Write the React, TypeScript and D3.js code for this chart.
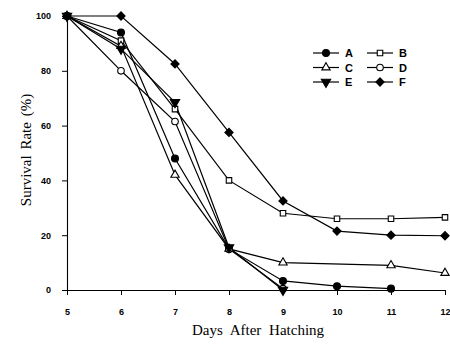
import React, { useEffect, useRef } from 'react';
import * as d3 from 'd3';

// days on the x axis
const days = [5, 6, 7, 8, 9, 10, 11, 12];
const yTicks = [0, 20, 40, 60, 80, 100];

// survival rate (%) per series
const seriesA = [[5, 100], [6, 94], [7, 48], [8, 15], [9, 3.3], [10, 1.4], [11, 0.5]];
const seriesB = [[5, 100], [6, 91], [7, 66], [8, 40], [9, 28], [10, 26], [11, 26], [12, 26.5]];
const seriesC = [[5, 100], [6, 89], [7, 42], [8, 15], [9, 10], [11, 9], [12, 6.2]];
const seriesD = [[5, 100], [6, 80], [7, 61.5], [8, 15], [9, 0.5]];
const seriesE = [[5, 100], [6, 88], [7, 68.5], [8, 15.5], [9, 0]];
const seriesF = [[5, 100], [6, 100], [7, 82.5], [8, 57.5], [9, 32.5], [10, 21.5], [11, 20], [12, 19.8]];

const seriesNames = ['A', 'B', 'C', 'D', 'E', 'F'];
const seriesData = [seriesA, seriesB, seriesC, seriesD, seriesE, seriesF];

type Marker = 'fcircle' | 'osquare' | 'otri' | 'ocircle' | 'fdowntri' | 'fdiamond';
const markers: Marker[] = ['fcircle', 'osquare', 'otri', 'ocircle', 'fdowntri', 'fdiamond'];

function drawMarker(g: any, type: Marker, x: number, y: number) {
    const sym = {
        fcircle: d3.symbol(d3.symbolCircle, 38),
        osquare: d3.symbol(d3.symbolSquare, 30),
        otri: d3.symbol(d3.symbolTriangle, 30),
        ocircle: d3.symbol(d3.symbolCircle, 34),
        fdowntri: d3.symbol(d3.symbolTriangle, 38),
        fdiamond: d3.symbol(d3.symbolSquare, 34),
    }[type];
    const filled = type.startsWith('f');
    let transform = `translate(${x},${y})`;
    if (type === 'fdowntri') transform += ' rotate(180)';
    if (type === 'fdiamond') transform += ' rotate(45)';
    g.append('path')
        .attr('d', sym())
        .attr('transform', transform)
        .attr('fill', filled ? '#000' : '#fff')
        .attr('stroke', '#000')
        .attr('stroke-width', 1.1);
}

const App = () => {
    const svgRef = useRef(null);

    useEffect(() => {
        const svg = d3.select(svgRef.current);
        svg.selectAll('*').remove();

        const width = 450;
        const height = 344;

        const x = d3.scaleLinear().domain([5, 12]).range([67, 445]);
        const y = d3.scaleLinear().domain([0, 100]).range([290, 16]);

        svg.attr('width', width).attr('height', height);
        svg.append('rect').attr('width', width).attr('height', height).attr('fill', '#fff');

        // Axes
        const xAxis = svg.append('g')
            .attr('transform', `translate(0,${y(0)})`)
            .call(d3.axisBottom(x).tickValues(days).tickSize(5).tickSizeOuter(0).tickFormat(d3.format('d')));
        xAxis.selectAll('text')
            .attr('dy', '1.9em')
            .style('font-family', 'Liberation Sans, Arial, sans-serif')
            .style('font-weight', 'bold')
            .style('font-size', '9px');

        const yAxis = svg.append('g')
            .attr('transform', `translate(${x(5)},0)`)
            .call(d3.axisLeft(y).tickValues(yTicks).tickSize(5).tickSizeOuter(0));
        yAxis.selectAll('text')
            .attr('dx', '-0.9em')
            .style('font-family', 'Liberation Sans, Arial, sans-serif')
            .style('font-weight', 'bold')
            .style('font-size', '9px');
        svg.selectAll('.domain').attr('stroke-width', 1.1);

        // Lines
        const line = d3.line()
            .x(d => x(d[0]))
            .y(d => y(d[1]));

        seriesData.forEach(data => {
            svg.append('path')
                .datum(data)
                .attr('d', line)
                .attr('fill', 'none')
                .attr('stroke', '#000')
                .attr('stroke-width', 1.2);
        });

        // Markers
        const markerGroup = svg.append('g');
        seriesData.forEach((data, i) => {
            data.forEach(d => drawMarker(markerGroup, markers[i], x(d[0]), y(d[1])));
        });

        // Legend
        const legend = svg.append('g');
        seriesNames.forEach((name, i) => {
            const col = i % 2;
            const row = Math.floor(i / 2);
            const lx = col === 0 ? 313 : 367;
            const ly = 53 + row * 14.5;
            legend.append('line')
                .attr('x1', lx).attr('x2', lx + 26)
                .attr('y1', ly).attr('y2', ly)
                .attr('stroke', '#000')
                .attr('stroke-width', 1.2);
            drawMarker(legend, markers[i], lx + 13, ly);
            legend.append('text')
                .attr('x', lx + 32)
                .attr('y', ly + 4)
                .text(name)
                .style('font-family', 'Liberation Sans, Arial, sans-serif')
                .style('font-weight', 'bold')
                .style('font-size', '11px');
        });

        // Axis titles
        svg.append('text')
            .attr('x', 258)
            .attr('y', 335)
            .attr('text-anchor', 'middle')
            .text('Days After Hatching')
            .style('font-family', 'Liberation Serif, Times New Roman, serif')
            .style('font-size', '15px')
            .style('word-spacing', '4px');

        svg.append('text')
            .attr('transform', 'translate(31,150) rotate(-90)')
            .attr('text-anchor', 'middle')
            .text('Survival Rate (%)')
            .style('font-family', 'Liberation Serif, Times New Roman, serif')
            .style('font-size', '15px')
            .style('word-spacing', '2px');
    }, []);

    return (
        <svg ref={svgRef} style={{ position: 'absolute', left: 0, top: 0 }}></svg>
    );
};

export default App;
